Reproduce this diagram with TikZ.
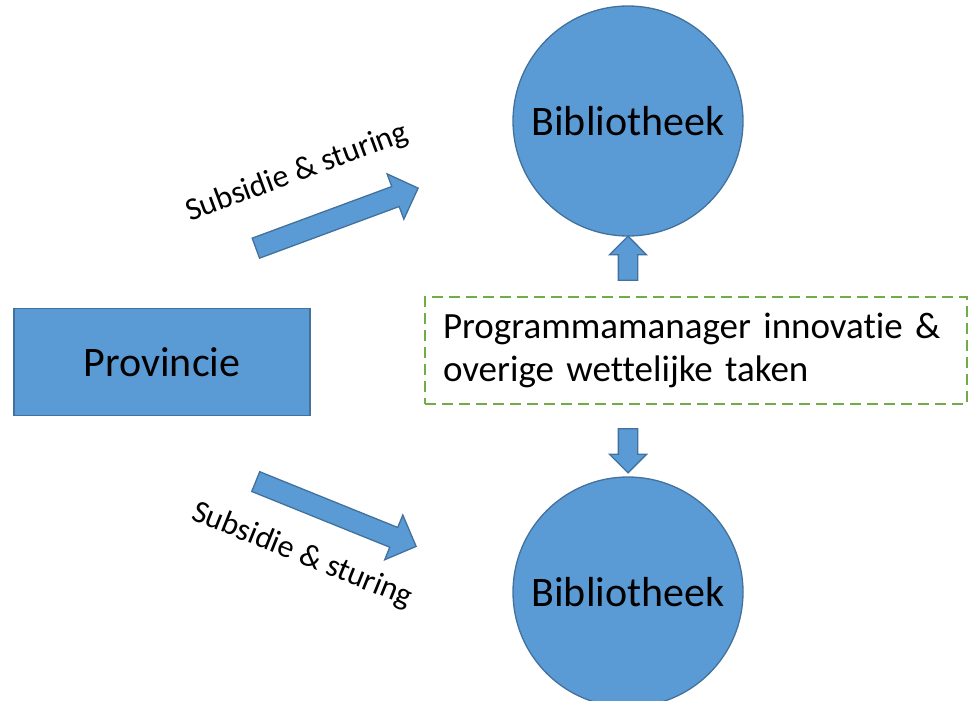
\documentclass[tikz,border=0pt]{standalone}
\usepackage{fontspec}
\setmainfont{Carlito}[Ligatures=NoCommon]
\usetikzlibrary{shapes.arrows}
\definecolor{vulblauw}{HTML}{5B9BD5}
\definecolor{randblauw}{HTML}{41719C}
\definecolor{stipgroen}{HTML}{70AD47}
\tikzset{
  blok/.style={fill=vulblauw,draw=randblauw,line width=1.3pt},
  pijl/.style={blok,single arrow,inner xsep=0pt,single arrow head extend=#1},
  bieb/.style={blok,circle,minimum size=230pt,inner sep=0pt,font=\fontsize{42}{50}\selectfont},
  labeltekst/.style={anchor=base,font=\fontsize{32}{38}\selectfont}
}
\def\grotepijl{\node[pijl=13.5pt,inner ysep=10pt,minimum height=173pt]}
\def\kleinepijl{\node[pijl=9pt,inner ysep=9pt,minimum height=44pt,rotate=90]}

\begin{document}
\begin{tikzpicture}[x=1pt,y=-1pt]
                \useasboundingbox (0,0) rectangle (969,701);
                \node[bieb] (bibboven) at (628,121) {Bibliotheek};
                \node[bieb] (bibonder) at (628,592) {Bibliotheek};
                \node[blok,minimum width=296pt,minimum height=107pt,
                      font=\fontsize{42}{50}\selectfont] (provincie) at (162,362) {Provincie};
                \node[draw=stipgroen,line width=2pt,dash pattern=on 11pt off 6pt,
                      minimum width=542pt,minimum height=107pt,inner xsep=18pt,
                      text width=506pt,align=left,font=\fontsize{37}{43}\selectfont]
                      (taken) at (696,350.5) {Programmamanager innovatie \&\\overige wettelijke taken};
                \grotepijl[rotate=20.3]  (pijlboven) at (332,220) {};
                \grotepijl[rotate=-22]   (pijlonder) at (331,512) {};
                \kleinepijl (naarboven) at (628,263) {};
                \kleinepijl[rotate=180] (naaronder) at (628,446) {};
                \node[labeltekst,rotate=20.3] (subboven) at (300,181) {Subsidie \& sturing};
                \node[labeltekst,rotate=-22]  (subonder) at (299,563) {Subsidie \& sturing};
            \end{tikzpicture}
\end{document}
